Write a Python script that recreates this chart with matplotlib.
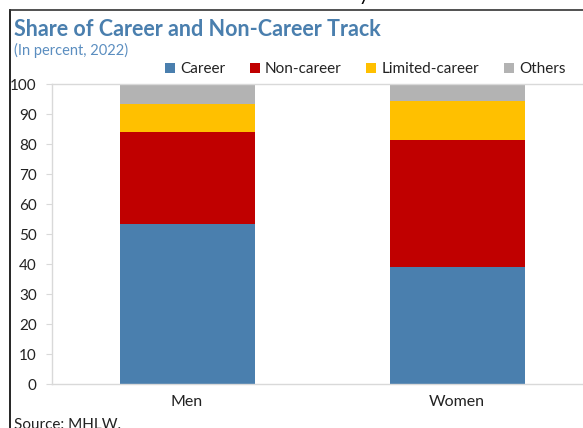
import matplotlib.pyplot as plt
from matplotlib.patches import Patch
from matplotlib.lines import Line2D

plt.rcParams['font.family'] = ['Lato', 'DejaVu Sans']

groups = ['Men', 'Women']
series = ['Career', 'Non-career', 'Limited-career', 'Others']
career = [53.4, 38.9]
non_career = [30.7, 42.3]
limited_career = [9.1, 13.1]
others = [6.8, 5.7]
colors = ['#4a7fae', '#c00000', '#ffc000', '#b3b3b3']

W, H = 583, 428
fig = plt.figure(figsize=(W / 100, H / 100), dpi=100)
ax = fig.add_axes([52 / W, 1 - 384 / H, 1 - 52 / W, 300 / H])

x = list(range(len(groups)))
bottom = [0, 0]
for vals, col in zip([career, non_career, limited_career, others], colors):
    ax.bar(x, vals, width=0.5, bottom=bottom, color=col, edgecolor='none', zorder=2)
    bottom = [b + v for b, v in zip(bottom, vals)]

ax.set_xlim(-0.5, (W - 187) / 270)
ax.set_ylim(0, 100)
ax.set_yticks(range(0, 101, 10))
ax.set_xticks(x)
ax.set_xticklabels(groups)
ax.tick_params(axis='x', length=0, pad=8, labelsize=11.5, labelcolor='#222222')
ax.tick_params(axis='y', length=4, color='#d9d9d9', width=0.8, pad=7,
               labelsize=11, labelcolor='#222222')
for s in ['left', 'bottom', 'top']:
    ax.spines[s].set_color('#d9d9d9')
    ax.spines[s].set_linewidth(1.0)
ax.spines['right'].set_visible(False)

handles = [Patch(facecolor=c, edgecolor='none') for c in colors]
fig.legend(handles, series, ncol=4, frameon=False, loc='center right',
           bbox_to_anchor=(573 / W, 1 - 69 / H), fontsize=11,
           handlelength=0.65, handleheight=0.65, handletextpad=0.35,
           columnspacing=1.6, borderpad=0, labelcolor='#222222')

fig.text(14 / W, 1 - 36 / H, 'Share of Career and Non-Career Track', fontsize=15.5,
         fontweight='bold', color='#4a7fae', va='baseline', ha='left')
fig.text(14 / W, 1 - 55 / H, '(In percent, 2022)', fontsize=10.5,
         color='#5b8ec0', va='baseline', ha='left')
fig.text(14 / W, 1 - 429 / H, 'Source: MHLW.', fontsize=11,
         color='#222222', va='baseline', ha='left')
fig.text(364 / W, 1 - 1 / H, 'y', fontsize=14, color='black', va='baseline', ha='center')

# frame edges of the cropped panel
fig.add_artist(Line2D([10 / W, 10 / W], [0, 1 - 10 / H], color='black', lw=1.2))
fig.add_artist(Line2D([10 / W, 1], [1 - 10 / H, 1 - 10 / H], color='#333333', lw=1.2))

fig.savefig('out.png', dpi=100)
